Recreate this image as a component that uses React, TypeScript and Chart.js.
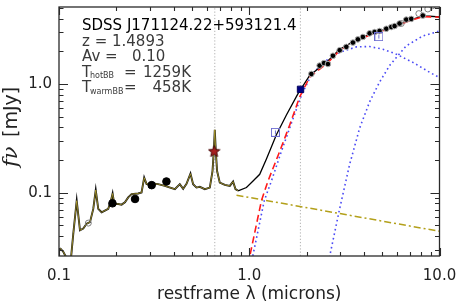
import React, { useEffect, useRef } from "react";
import { Chart, registerables } from "chart.js";
Chart.register(...registerables);

// ---------- data (restframe wavelength in microns, flux density in mJy) ----------
const specLam = [0.1012,0.1053,0.1097,0.1156,0.1189,0.1239,0.1289,0.1341,0.1397,0.1455,0.1514,0.156,0.1608,0.1675,0.1743,0.1815,0.1875,0.1913,0.1951,0.2047,0.2133,0.2221,0.2311,0.2407,0.2608,0.2716,0.2804,0.2886,0.3004,0.3126,0.3321,0.36,0.4064,0.4316,0.4493,0.468,0.491,0.507,0.5282,0.5496,0.5841,0.6205,0.641,0.651,0.659,0.667,0.6776,0.70,0.7438,0.7902,0.8222,0.8464,0.8733];
const specFlux = [0.031,0.0287,0.025,0.025,0.0421,0.0846,0.0451,0.0468,0.0519,0.0537,0.0711,0.106,0.0711,0.0662,0.0686,0.0711,0.0846,0.0985,0.0789,0.0789,0.0778,0.0816,0.0907,0.0973,0.0985,0.1006,0.1377,0.12,0.12,0.1215,0.12,0.1158,0.108,0.12,0.1087,0.1207,0.1498,0.12,0.1117,0.1134,0.108,0.1117,0.1585,0.241,0.38,0.241,0.1585,0.124,0.1182,0.1158,0.1267,0.108,0.1043];

const modelLam = [0.8733,0.9667,1.047,1.135,1.231,1.389,1.568,1.804,2.078,2.542,2.987,3.507,3.957,4.842,5.926,6.958,8.173,8.862,10];
const modelFlux = [0.1043,0.1117,0.1285,0.148,0.205,0.3417,0.519,0.8166,1.2,1.585,2.094,2.444,2.715,3.077,3.46,3.873,4.21,4.21,4.15];

const sumBBLam = [0.988,1.006,1.159,1.255,1.446,1.632,1.841,2.078,2.583,2.987,3.507,3.957,4.842,5.926,6.958,8.173,10];
const sumBBFlux = [0.0217,0.026,0.0846,0.1285,0.241,0.421,0.762,1.158,1.569,2.04,2.41,2.675,3.03,3.42,3.834,4.17,4.13];

const hotBBLam = [1.024,1.043,1.199,1.308,1.476,1.665,1.879,2.128,2.521,2.987,3.653,4.291,5.04,5.926,7.24,8.862,10];
const hotBBFlux = [0.0217,0.026,0.0846,0.1285,0.241,0.4355,0.789,1.233,1.635,1.954,2.2,2.215,2.094,1.886,1.585,1.286,1.146];

const warmBBLam = [2.604,2.646,2.987,3.37,3.802,4.291,4.842,5.465,6.687,8.173,10];
const warmBBFlux = [0.0231,0.026,0.0715,0.1824,0.392,0.686,1.043,1.479,2.248,2.772,3.077];

const powerLawLam = [0.857, 10];
const powerLawFlux = [0.095, 0.0442];

const nirLam = [2.121,2.344,2.471,2.592,2.754,2.987,3.237,3.507,3.725,3.957,4.291,4.559,4.842,5.252,5.579,5.806,6.166,6.687,7.102,8.173];
const nirFlux = [1.24,1.479,1.562,1.529,1.823,2.05,2.2,2.41,2.58,2.715,2.93,3.01,3.08,3.23,3.35,3.42,3.61,3.92,3.98,4.27];

const openCircLam = [0.1426,6.295,7.788,8.682,9.19];
const openCircFlux = [0.0526,3.61,4.45,4.91,5.26];

const photLam = [0.191,0.251,0.307,0.367];
const photFlux = [0.08,0.0877,0.1175,0.127];

const starLam = [0.654];
const starFlux = [0.241];

const filledSqLam = [1.86];
const filledSqFlux = [0.895];

const openSqLam = [1.372, 4.8];
const openSqFlux = [0.36, 2.73];

const vLineLam = [0.659, 1.857];

const xTickValues = [0.1,0.2,0.3,0.4,0.5,0.6,0.7,0.8,0.9,1,2,3,4,5,6,7,8,9,10];
const xTickLabels: Record<string, string> = { "0.1": "0.1", "1": "1.0", "10": "10.0" };
const yTickValues = [0.03,0.04,0.05,0.06,0.07,0.08,0.09,0.1,0.2,0.3,0.4,0.5,0.6,0.7,0.8,0.9,1,2,3,4,5];
const yTickLabels: Record<string, string> = { "0.1": "0.1", "1": "1.0" };
const xMajor = [0.1, 1, 10];
const yMajor = [0.1, 1];

const xRange = [0.1, 10];
const yRange = [0.0262, 5.12];

const toXY = (xs: number[], ys: number[]) => xs.map((x, i) => ({ x, y: ys[i] }));

function makeStar(): HTMLCanvasElement {
  const c = document.createElement("canvas");
  c.width = 13; c.height = 13;
  const g = c.getContext("2d")!;
  g.beginPath();
  for (let i = 0; i < 10; i++) {
    const r = i % 2 === 0 ? 6 : 2.6;
    const a = -Math.PI / 2 + (i * Math.PI) / 5;
    const px = 6.5 + r * Math.cos(a), py = 6.8 + r * Math.sin(a);
    if (i === 0) g.moveTo(px, py); else g.lineTo(px, py);
  }
  g.closePath();
  g.fillStyle = "#a82020";
  g.fill();
  g.strokeStyle = "#4a0a0a";
  g.lineWidth = 1;
  g.stroke();
  return c;
}

function makeOpenSquare(): HTMLCanvasElement {
  const c = document.createElement("canvas");
  c.width = 9; c.height = 9;
  const g = c.getContext("2d")!;
  g.strokeStyle = "#6c6cd0";
  g.lineWidth = 1;
  g.strokeRect(0.5, 0.5, 8, 8);
  g.beginPath();
  g.moveTo(4.5, 2.5); g.lineTo(4.5, 6.5);
  g.stroke();
  return c;
}

const framePlugin = {
  id: "idlFrame",
  afterDraw(chart: any) {
    const { ctx, chartArea: a, scales } = chart;
    const xs = scales.x, ys = scales.y;
    ctx.save();
    ctx.strokeStyle = "#2a2a2a";
    ctx.lineWidth = 1.3;
    ctx.strokeRect(a.left, a.top, a.right - a.left, a.bottom - a.top);
    ctx.lineWidth = 1.1;
    ctx.beginPath();
    xTickValues.forEach((v) => {
      const px = Math.round(xs.getPixelForValue(v)) + 0.5;
      const len = xMajor.includes(v) ? 8 : 4;
      ctx.moveTo(px, a.bottom); ctx.lineTo(px, a.bottom - len);
      ctx.moveTo(px, a.top); ctx.lineTo(px, a.top + len);
    });
    yTickValues.forEach((v) => {
      const py = Math.round(ys.getPixelForValue(v)) + 0.5;
      const len = yMajor.includes(v) ? 9 : 4.5;
      ctx.moveTo(a.left, py); ctx.lineTo(a.left + len, py);
      ctx.moveTo(a.right, py); ctx.lineTo(a.right - len, py);
    });
    ctx.stroke();

    // annotation block
    ctx.textBaseline = "alphabetic";
    ctx.textAlign = "left";
    ctx.fillStyle = "#000";
    ctx.font = '15px "DejaVu Sans"';
    ctx.fillText("SDSS J171124.22+593121.4", 82, 30);
    ctx.fillStyle = "#3a3a3a";
    ctx.fillText("z = 1.4893", 82, 45.5);
    ctx.fillText("Av =   0.10", 82, 61);
    ctx.fillText("T", 82, 76.5);
    ctx.fillText("T", 82, 92);
    ctx.fillText("=", 124, 76.5);
    ctx.fillText("=", 124, 92);
    ctx.textAlign = "right";
    ctx.fillText("1259K", 191, 76.5);
    ctx.fillText("458K", 191, 92);
    ctx.textAlign = "left";
    ctx.font = '8px "DejaVu Sans"';
    ctx.fillText("hotBB", 90, 78);
    ctx.fillText("warmBB", 90, 93.5);

    // x title
    ctx.fillStyle = "#222";
    ctx.textAlign = "center";
    ctx.font = '17px "DejaVu Sans"';
    ctx.fillText("restframe \u03bb (microns)", (a.left + a.right) / 2, 299);

    // y title (rotated)
    ctx.save();
    ctx.translate(12, 167);
    ctx.rotate(-Math.PI / 2);
    ctx.textAlign = "left";
    ctx.textBaseline = "middle";
    ctx.font = 'italic 21px "DejaVu Serif"';
    ctx.fillText("f\u03bd", 0, 0);
    ctx.font = '19px "DejaVu Sans"';
    ctx.fillText("[mJy]", 30, 0);
    ctx.restore();
    ctx.restore();
  },
};

export default function App() {
  const ref = useRef<HTMLCanvasElement>(null);
  useEffect(() => {
    const canvas = ref.current!;
    const star = makeStar();
    const openSq = makeOpenSquare();
    const line = (xs: number[], ys: number[], color: string, width: number, dash: number[], order: number) => ({
      data: toXY(xs, ys),
      showLine: true,
      borderColor: color,
      borderWidth: width,
      borderDash: dash,
      pointRadius: 0,
      fill: false,
      tension: 0,
      order,
    });
    const pts = (xs: number[], ys: number[], style: any, radius: number, bg: string, border: string, bw: number, order: number) => ({
      data: toXY(xs, ys),
      showLine: false,
      pointStyle: style,
      pointRadius: radius,
      pointBackgroundColor: bg,
      pointBorderColor: border,
      pointBorderWidth: bw,
      order,
    });
    const datasets: any[] = [
      pts(starLam, starFlux, star, 6, "#a82020", "#4a0a0a", 1, 0),
      pts(filledSqLam, filledSqFlux, "rect", 4.5, "#000080", "#000060", 1, 0),
      pts(openSqLam, openSqFlux, openSq, 4, "rgba(0,0,0,0)", "#6c6cd0", 1, 0),
      pts(photLam, photFlux, "circle", 3.8, "#000", "#000", 1, 1),
      pts(nirLam, nirFlux, "circle", 2.8, "#000", "#b0b0b0", 1, 1),
      pts(openCircLam, openCircFlux, "circle", 3, "rgba(0,0,0,0)", "#808080", 1, 1),
      line(sumBBLam, sumBBFlux, "#ff1a1a", 1.6, [7, 4], 2),
      line(modelLam, modelFlux, "#000", 1.3, [], 3),
      line(specLam, specFlux, "#c8b430", 0.7, [], 3.5),
      line(specLam, specFlux, "#111", 1.9, [], 4),
      line(powerLawLam, powerLawFlux, "#b3a01a", 1.5, [7, 3, 2, 3], 5),
      line(hotBBLam, hotBBFlux, "#4a4af5", 1.6, [1.6, 3], 6),
      line(warmBBLam, warmBBFlux, "#4a4af5", 1.6, [1.6, 3], 6),
      ...vLineLam.map((v) => line([v, v], [0.02, 6], "#b0b0b0", 1, [1.2, 2], 7)),
    ];
    const chart = new Chart(canvas, {
      type: "scatter",
      data: { datasets },
      options: {
        animation: false,
        responsive: true,
        maintainAspectRatio: false,
        events: [],
        layout: { padding: { left: 0, top: 4, right: 18.5, bottom: 0 } },
        plugins: { legend: { display: false }, tooltip: { enabled: false } },
        scales: {
          x: {
            type: "logarithmic",
            min: xRange[0],
            max: xRange[1],
            grid: { display: false, drawTicks: false },
            border: { display: false },
            afterBuildTicks: (s: any) => { s.ticks = xTickValues.map((v) => ({ value: v })); },
            afterFit: (s: any) => { s.height = 49; s.paddingLeft = 0; s.paddingRight = 0; },
            ticks: {
              autoSkip: false,
              maxRotation: 0,
              padding: 11,
              color: "#222",
              font: { family: "DejaVu Sans", size: 15 },
              callback: (v: any) => xTickLabels[String(v)] ?? "",
            },
          },
          y: {
            type: "logarithmic",
            min: yRange[0],
            max: yRange[1],
            grid: { display: false, drawTicks: false },
            border: { display: false },
            afterBuildTicks: (s: any) => { s.ticks = yTickValues.map((v) => ({ value: v })); },
            afterFit: (s: any) => { s.width = 59; s.paddingTop = 0; s.paddingBottom = 0; },
            ticks: {
              autoSkip: false,
              padding: 7,
              color: "#222",
              font: { family: "DejaVu Sans", size: 15 },
              callback: (v: any) => yTickLabels[String(v)] ?? "",
            },
          },
        },
      },
      plugins: [framePlugin],
    } as any);
    return () => chart.destroy();
  }, []);
  return (
    <div style={{ position: "absolute", left: 0, top: 0, width: 458, height: 305, background: "#fff" }}>
      <canvas ref={ref} />
    </div>
  );
}
